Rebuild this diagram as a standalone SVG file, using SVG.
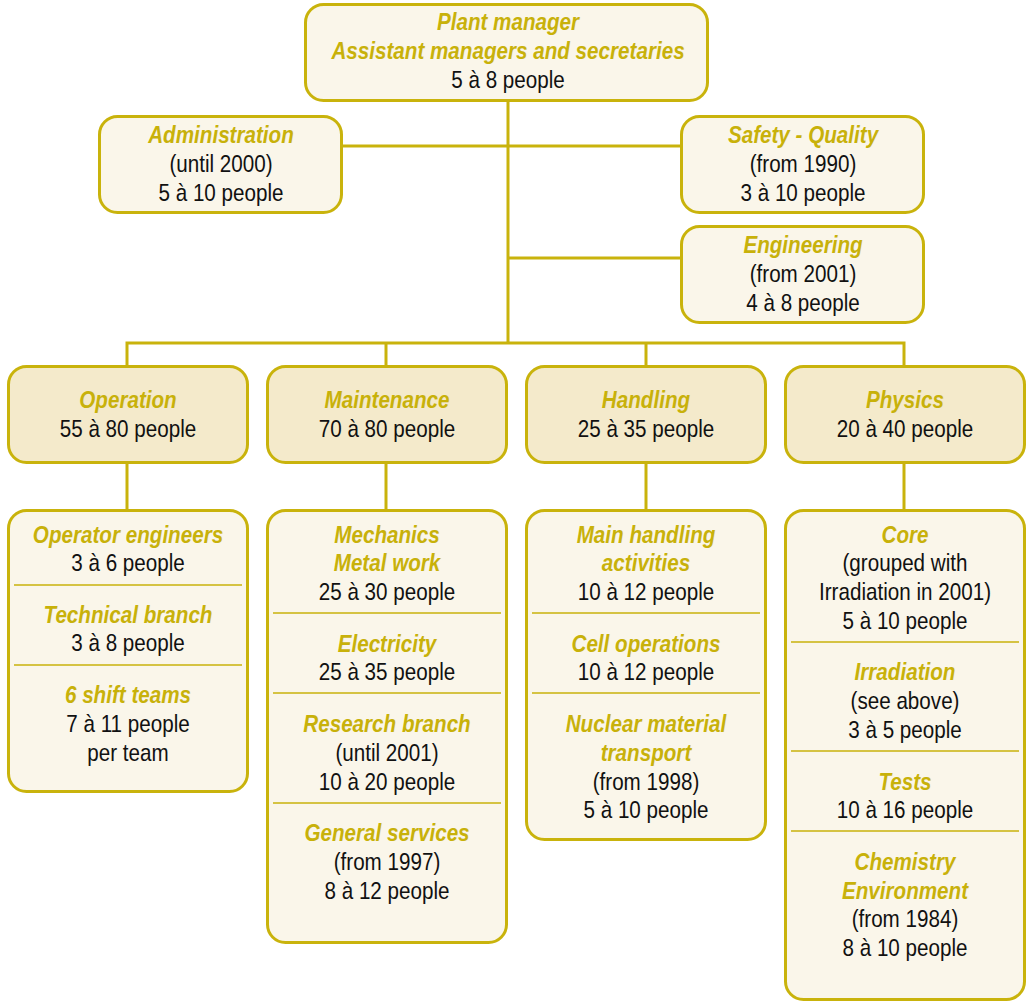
<svg xmlns="http://www.w3.org/2000/svg" width="1027" height="1001" viewBox="0 0 1027 1001">
<style>
.box{fill:#faf6ea;stroke:#c9b30c;stroke-width:3}
.dept{fill:#f4eacb;stroke:#c9b30c;stroke-width:3}
.div{stroke:#c9b30c;stroke-width:1.5;fill:none}
.con{stroke:#c9b30c;stroke-width:3;fill:none}
text{font-family:"Liberation Sans",Arial,sans-serif;font-size:24px;text-anchor:middle}
.t{fill:#c8b10a;font-style:italic;font-weight:bold}
.n{fill:#111}
</style>
<rect width="1027" height="1001" fill="#ffffff"/>
<g id="connectors">
<path class="con" d="M508 101V342M342 146H681M508 258H681M127 366V343H904V366M386 343V366M646 343V366"/>
<path class="con" d="M127 463V510M386 463V510M646 463V510M904 463V510"/>
</g>
<g id="plant-manager">
<rect class="box" x="305.5" y="4.5" width="402" height="96" rx="18"/>
<g transform="translate(508 0) scale(0.86 1)">
<text class="t" x="0" y="30">Plant manager</text>
<text class="t" x="0" y="59">Assistant managers and secretaries</text>
<text class="n" x="0" y="88">5 à 8 people</text>
</g>
</g>
<g id="administration">
<rect class="box" x="99.5" y="116.5" width="242" height="96" rx="18"/>
<g transform="translate(221 0) scale(0.86 1)">
<text class="t" x="0" y="143">Administration</text>
<text class="n" x="0" y="172">(until 2000)</text>
<text class="n" x="0" y="201">5 à 10 people</text>
</g>
</g>
<g id="safety-quality">
<rect class="box" x="681.5" y="116.5" width="242" height="96" rx="18"/>
<g transform="translate(803 0) scale(0.86 1)">
<text class="t" x="0" y="143">Safety - Quality</text>
<text class="n" x="0" y="172">(from 1990)</text>
<text class="n" x="0" y="201">3 à 10 people</text>
</g>
</g>
<g id="engineering">
<rect class="box" x="681.5" y="226.5" width="242" height="96" rx="18"/>
<g transform="translate(803 0) scale(0.86 1)">
<text class="t" x="0" y="253">Engineering</text>
<text class="n" x="0" y="282">(from 2001)</text>
<text class="n" x="0" y="311">4 à 8 people</text>
</g>
</g>
<g id="operation">
<rect class="dept" x="8.5" y="366.5" width="239" height="96" rx="18"/>
<g transform="translate(128 0) scale(0.86 1)">
<text class="t" x="0" y="408">Operation</text>
<text class="n" x="0" y="437">55 à 80 people</text>
</g>
</g>
<g id="maintenance">
<rect class="dept" x="267.5" y="366.5" width="239" height="96" rx="18"/>
<g transform="translate(387 0) scale(0.86 1)">
<text class="t" x="0" y="408">Maintenance</text>
<text class="n" x="0" y="437">70 à 80 people</text>
</g>
</g>
<g id="handling">
<rect class="dept" x="526.5" y="366.5" width="239" height="96" rx="18"/>
<g transform="translate(646 0) scale(0.86 1)">
<text class="t" x="0" y="408">Handling</text>
<text class="n" x="0" y="437">25 à 35 people</text>
</g>
</g>
<g id="physics">
<rect class="dept" x="785.5" y="366.5" width="239" height="96" rx="18"/>
<g transform="translate(905 0) scale(0.86 1)">
<text class="t" x="0" y="408">Physics</text>
<text class="n" x="0" y="437">20 à 40 people</text>
</g>
</g>
<g id="operation-units">
<rect class="box" x="8.5" y="510.5" width="239" height="281" rx="18"/>
<path class="div" d="M14 585H242M14 665H242"/>
<g transform="translate(128 0) scale(0.86 1)">
<text class="t" x="0" y="543">Operator engineers</text>
<text class="n" x="0" y="571">3 à 6 people</text>
<text class="t" x="0" y="623">Technical branch</text>
<text class="n" x="0" y="651">3 à 8 people</text>
<text class="t" x="0" y="703">6 shift teams</text>
<text class="n" x="0" y="732">7 à 11 people</text>
<text class="n" x="0" y="761">per team</text>
</g>
</g>
<g id="maintenance-units">
<rect class="box" x="267.5" y="510.5" width="239" height="432" rx="18"/>
<path class="div" d="M273 613H501M273 693H501M273 803H501"/>
<g transform="translate(387 0) scale(0.86 1)">
<text class="t" x="0" y="543">Mechanics</text>
<text class="t" x="0" y="571">Metal work</text>
<text class="n" x="0" y="600">25 à 30 people</text>
<text class="t" x="0" y="652">Electricity</text>
<text class="n" x="0" y="680">25 à 35 people</text>
<text class="t" x="0" y="732">Research branch</text>
<text class="n" x="0" y="761">(until 2001)</text>
<text class="n" x="0" y="790">10 à 20 people</text>
<text class="t" x="0" y="841">General services</text>
<text class="n" x="0" y="870">(from 1997)</text>
<text class="n" x="0" y="899">8 à 12 people</text>
</g>
</g>
<g id="handling-units">
<rect class="box" x="526.5" y="510.5" width="239" height="329" rx="18"/>
<path class="div" d="M532 613H760M532 693H760"/>
<g transform="translate(646 0) scale(0.86 1)">
<text class="t" x="0" y="543">Main handling</text>
<text class="t" x="0" y="571">activities</text>
<text class="n" x="0" y="600">10 à 12 people</text>
<text class="t" x="0" y="652">Cell operations</text>
<text class="n" x="0" y="680">10 à 12 people</text>
<text class="t" x="0" y="732">Nuclear material</text>
<text class="t" x="0" y="761">transport</text>
<text class="n" x="0" y="790">(from 1998)</text>
<text class="n" x="0" y="818">5 à 10 people</text>
</g>
</g>
<g id="physics-units">
<rect class="box" x="785.5" y="510.5" width="239" height="489" rx="18"/>
<path class="div" d="M791 642H1019M791 751H1019M791 831H1019"/>
<g transform="translate(905 0) scale(0.86 1)">
<text class="t" x="0" y="543">Core</text>
<text class="n" x="0" y="571">(grouped with</text>
<text class="n" x="0" y="600">Irradiation in 2001)</text>
<text class="n" x="0" y="629">5 à 10 people</text>
<text class="t" x="0" y="680">Irradiation</text>
<text class="n" x="0" y="709">(see above)</text>
<text class="n" x="0" y="738">3 à 5 people</text>
<text class="t" x="0" y="790">Tests</text>
<text class="n" x="0" y="818">10 à 16 people</text>
<text class="t" x="0" y="870">Chemistry</text>
<text class="t" x="0" y="899">Environment</text>
<text class="n" x="0" y="927">(from 1984)</text>
<text class="n" x="0" y="956">8 à 10 people</text>
</g>
</g>
</svg>
